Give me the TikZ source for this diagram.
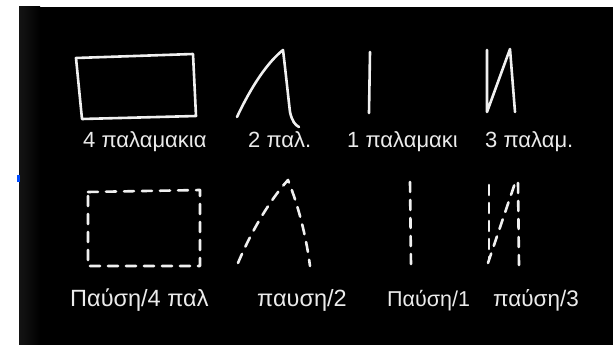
\documentclass[tikz,border=0pt]{standalone}
\usepackage{fontspec}
\setmainfont{Liberation Sans}
\begin{document}
\begin{tikzpicture}[x=1pt,y=-1pt,
  chalk/.style={draw=white!94!black,line width=2.6pt,line cap=round,line join=round},
  chalkdash/.style={chalk,line width=2.6pt,dash pattern=on 10pt off 8pt},
  lbl/.style={text=white!92!black,anchor=base west,inner sep=0pt},
  lbltop/.style={lbl,font=\fontsize{22}{26}\selectfont},
  lblbot/.style={lbl,font=\fontsize{23.5}{28}\selectfont}]
\useasboundingbox (0,0) rectangle (613,345);
\fill[white] (0,0) rectangle (613,345);
\fill[black] (19,7) rectangle (613,345);
\shade[left color=black!92,right color=black] (19,7) rectangle (40,345);
\fill[blue!70!cyan] (17,175) rectangle (20,182);
% top row, solid
\draw[chalk] (76,58) -- (193,54) -- (196,116) -- (82,119) -- cycle;
\draw[chalk] (237,117) .. controls (252,85) and (268,62) .. (283,50)
  .. controls (286,75) and (288,95) .. (290,112)
  .. controls (292,121) and (295,125) .. (299,127);
\draw[chalk] (370,52) -- (369,113);
\draw[chalk] (487,50) -- (487,112) -- (510,49) -- (515,112);
% bottom row, dashed
\draw[chalkdash] (88,192) -- (200,190) -- (200,266) -- (88,266) -- cycle;
\draw[chalkdash] (238,263) .. controls (252,230) and (270,200) .. (288,180)
  .. controls (298,205) and (306,235) .. (310,266);
\draw[chalkdash] (410,182) -- (411,265);
\draw[chalkdash] (489,185) -- (489,260);
\draw[chalkdash] (488,263) -- (515,183);
\draw[chalkdash] (518,183) -- (519,265);
% labels
\node[lbltop] (t1) at (83,147) {4 παλαμακια};
\node[lbltop] (t2) at (248,147) {2 παλ.};
\node[lbltop] (t3) at (347,147) {1 παλαμακι};
\node[lbltop] (t4) at (485,147) {3 παλαμ.};
\node[lblbot] (b1) at (70,306) {Παύση/4 παλ};
\node[lblbot] (b2) at (257,306) {παυση/2};
\node[lbl,font=\fontsize{21.5}{26}\selectfont] (b3) at (387,306) {Παύση/1};
\node[lbl,font=\fontsize{22.5}{26}\selectfont] (b4) at (493,306) {παύση/3};
\end{tikzpicture}
\end{document}
